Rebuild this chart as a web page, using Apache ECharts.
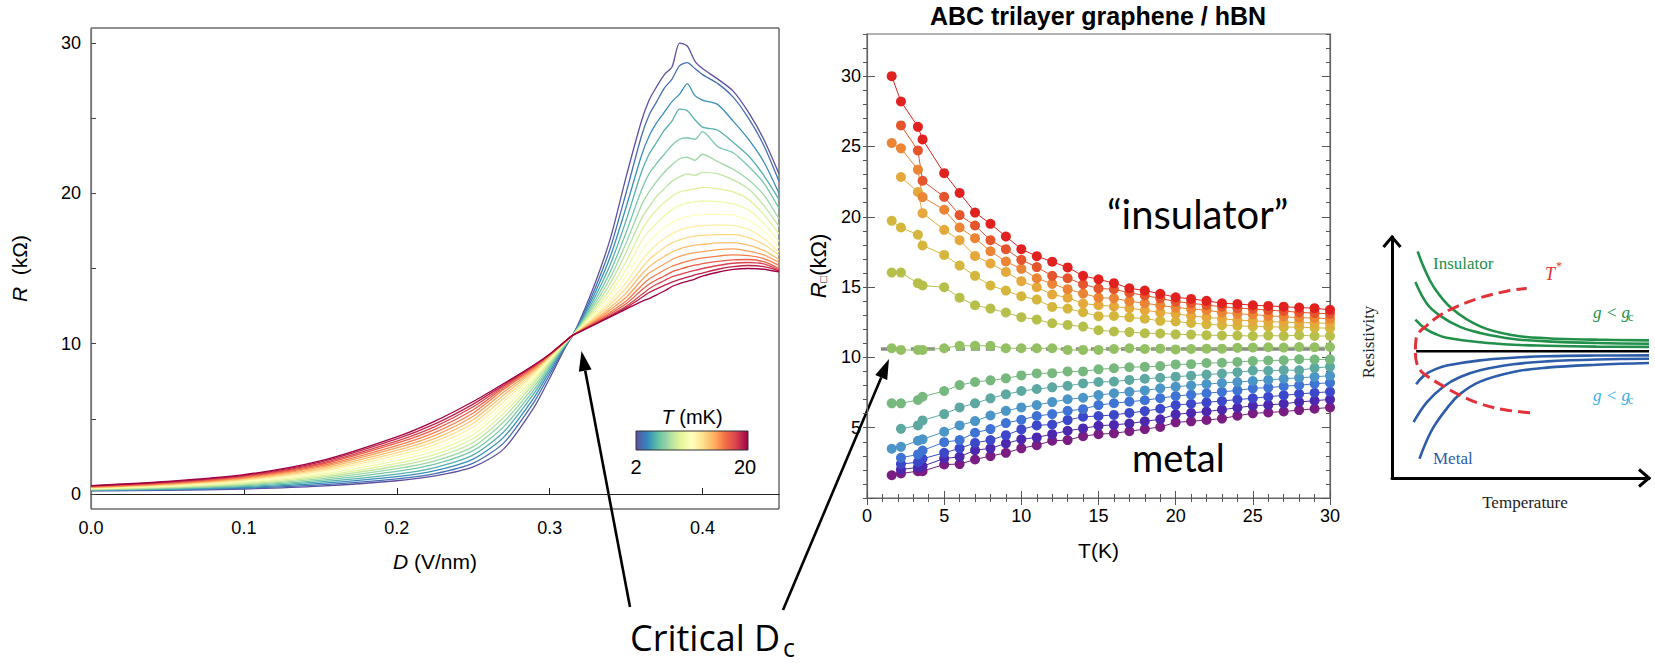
<!DOCTYPE html>
<html><head><meta charset="utf-8">
<script src="https://cdn.jsdelivr.net/npm/echarts@6/dist/echarts.min.js"></script>
<style>html,body{margin:0;padding:0;background:#fff}#c{width:1655px;height:664px}</style>
</head><body><div id="c"></div>
<script>
// ---------- Left panel: R vs D for several temperatures (mK) ----------
const dGrid = [0,0.05,0.1,0.15,0.2,0.225,0.25,0.27,0.29,0.3,0.31,0.315,0.32,0.33,0.34,0.35,0.36,0.365,0.37,0.375,0.38,0.385,0.39,0.395,0.4,0.41,0.42,0.43,0.44,0.45];
const tempsMK = [2,3,4,5,6,7,8,9,10,11,12,13,14,15,16,17,18,19,20];
const rT2  = [0.20,0.24,0.33,0.52,0.88,1.20,1.80,3.00,5.80,7.70,9.70,10.55,11.60,14.10,17.10,21.10,24.80,26.20,27.10,27.90,28.40,30.00,29.80,28.80,28.30,27.60,26.80,25.40,23.60,21.30];
const rT3  = [0.22,0.27,0.38,0.60,1.00,1.35,2.05,3.40,6.15,7.95,9.78,10.55,11.50,13.76,16.46,20.04,23.80,25.20,26.10,27.00,27.60,28.50,28.70,28.30,27.90,27.30,26.40,25.00,23.20,20.80];
const rT4  = [0.24,0.30,0.43,0.70,1.15,1.55,2.32,3.78,6.45,8.15,9.84,10.55,11.42,13.46,15.88,19.08,22.50,23.80,24.70,25.40,26.10,26.60,27.30,26.50,26.20,25.90,24.80,23.60,22.10,20.00];
const rT5  = [0.26,0.33,0.49,0.80,1.32,1.76,2.60,4.14,6.72,8.32,9.89,10.55,11.34,13.18,15.35,18.20,21.40,22.60,23.40,24.20,24.80,25.60,25.50,24.90,24.40,24.20,23.40,22.50,21.20,19.60];
const rT6  = [0.28,0.37,0.55,0.90,1.50,1.98,2.88,4.48,6.96,8.47,9.93,10.55,11.26,12.92,14.87,17.40,20.20,21.30,22.00,22.60,23.20,23.60,23.70,23.60,24.10,23.10,22.70,21.80,20.70,19.00];
const rT7  = [0.30,0.40,0.61,1.00,1.68,2.20,3.15,4.80,7.18,8.60,9.96,10.55,11.20,12.70,14.45,16.70,19.20,20.10,20.80,21.40,21.90,22.30,22.40,22.20,22.60,22.10,21.60,20.90,19.90,18.30];
const rT8  = [0.32,0.44,0.67,1.10,1.86,2.42,3.42,5.10,7.38,8.72,9.99,10.55,11.14,12.50,14.08,16.08,18.30,19.10,19.80,20.30,20.80,21.10,21.30,21.20,21.40,21.30,20.90,20.30,19.20,17.80];
const rT9  = [0.34,0.47,0.73,1.20,2.04,2.64,3.69,5.38,7.56,8.82,10.02,10.55,11.09,12.31,13.71,15.47,17.50,18.30,18.90,19.40,19.80,20.10,20.20,20.30,20.40,20.30,20.10,19.60,18.60,17.30];
const rT10 = [0.36,0.51,0.79,1.30,2.22,2.86,3.95,5.65,7.72,8.91,10.04,10.55,11.04,12.14,13.39,14.94,16.80,17.50,18.00,18.50,18.90,19.20,19.35,19.45,19.50,19.45,19.30,18.90,18.00,16.80];
const rT11 = [0.38,0.54,0.85,1.40,2.40,3.08,4.21,5.90,7.87,8.99,10.06,10.55,11.00,12.00,13.13,14.50,16.10,16.80,17.30,17.70,18.05,18.30,18.45,18.55,18.60,18.60,18.55,18.20,17.50,16.40];
const rT12 = [0.40,0.58,0.91,1.50,2.57,3.29,4.46,6.14,8.00,9.06,10.08,10.55,10.96,11.86,12.86,14.06,15.50,16.10,16.60,17.00,17.30,17.55,17.70,17.80,17.85,17.90,17.85,17.60,17.00,16.10];
const rT13 = [0.42,0.61,0.96,1.60,2.74,3.50,4.70,6.37,8.12,9.12,10.09,10.55,10.93,11.75,12.65,13.71,15.00,15.60,16.00,16.40,16.70,16.90,17.05,17.15,17.20,17.25,17.25,17.05,16.60,15.90];
const rT14 = [0.44,0.65,1.01,1.69,2.90,3.70,4.94,6.58,8.23,9.17,10.10,10.55,10.90,11.64,12.44,13.36,14.60,15.10,15.50,15.80,16.10,16.30,16.45,16.55,16.60,16.70,16.72,16.55,16.20,15.60];
const rT15 = [0.46,0.68,1.06,1.78,3.06,3.90,5.17,6.78,8.32,9.21,10.11,10.55,10.87,11.55,12.28,13.09,14.20,14.70,15.00,15.30,15.60,15.80,15.95,16.05,16.12,16.25,16.30,16.15,15.90,15.40];
const rT16 = [0.48,0.71,1.11,1.87,3.22,4.10,5.39,6.96,8.40,9.24,10.12,10.55,10.85,11.47,12.12,12.83,13.85,14.30,14.60,14.90,15.15,15.33,15.48,15.60,15.70,15.82,15.90,15.85,15.65,15.20];
const rT17 = [0.50,0.74,1.16,1.96,3.38,4.30,5.60,7.08,8.47,9.26,10.13,10.55,10.83,11.41,12.01,12.65,13.55,13.95,14.25,14.50,14.78,14.95,15.10,15.22,15.33,15.48,15.58,15.60,15.45,15.00];
const rT18 = [0.52,0.77,1.20,2.04,3.52,4.48,5.80,7.18,8.53,9.28,10.14,10.55,10.82,11.35,11.91,12.48,13.25,13.65,13.95,14.20,14.45,14.60,14.75,14.88,15.00,15.20,15.35,15.40,15.30,14.90];
const rT19 = [0.54,0.80,1.24,2.12,3.66,4.66,5.98,7.27,8.57,9.29,10.14,10.55,10.81,11.32,11.85,12.39,13.05,13.40,13.65,13.88,14.10,14.28,14.43,14.57,14.70,14.95,15.12,15.20,15.12,14.85];
const rT20 = [0.56,0.83,1.28,2.20,3.80,4.85,6.15,7.35,8.60,9.30,10.15,10.55,10.80,11.30,11.80,12.30,12.80,13.00,13.25,13.50,13.80,14.00,14.15,14.30,14.50,14.75,14.94,15.00,14.95,14.77];
const curvesRD = [rT2,rT3,rT4,rT5,rT6,rT7,rT8,rT9,rT10,rT11,rT12,rT13,rT14,rT15,rT16,rT17,rT18,rT19,rT20];

// ---------- Middle panel: R vs T (K) ----------
const tK = [1.6,2.2,3.3,3.6,5,6,7,8,9,10,11,12,13,14,15,16,17,18,19,20,21,22,23,24,25,26,27,28,29,30];
const sRed     = [30.0,28.2,26.4,25.5,23.1,21.7,20.3,19.5,18.6,17.7,17.2,16.8,16.4,15.8,15.55,15.28,14.92,14.75,14.52,14.28,14.16,14.02,13.85,13.8,13.71,13.66,13.61,13.54,13.5,13.38];
const sRedOr   = [null,26.5,24.72,22.56,21.42,20.12,19.38,18.34,17.7,16.94,16.42,15.8,15.63,15.2,14.9,14.85,14.6,14.4,14.2,13.97,13.85,13.72,13.6,13.5,13.45,13.35,13.3,13.2,13.15,13.1];
const sOrange  = [25.25,24.87,23.35,21.4,20.5,19.24,18.48,17.55,16.82,16.3,15.63,15.23,14.85,14.54,14.25,14.2,14.0,13.85,13.7,13.55,13.45,13.35,13.2,13.1,13.05,12.95,12.9,12.82,12.8,12.75];
const sYelOr   = [null,22.83,21.76,20.26,19.07,18.34,17.22,16.68,16.08,15.42,14.99,14.47,14.25,13.83,13.71,13.62,13.5,13.35,13.2,13.1,12.95,12.85,12.75,12.65,12.6,12.55,12.5,12.48,12.45,12.42];
const sYellow  = [19.71,19.24,18.72,17.96,17.29,16.53,15.8,15.11,14.75,14.35,14.11,13.59,13.47,13.21,12.93,12.95,12.85,12.75,12.6,12.55,12.45,12.35,12.3,12.25,12.2,12.18,12.15,12.16,12.1,12.08];
const sYelGrn  = [16.03,16.03,15.28,15.11,14.99,14.25,13.71,13.47,13.19,12.86,12.69,12.43,12.31,12.19,11.93,11.84,11.8,11.72,11.7,11.64,11.62,11.58,11.56,11.55,11.52,11.55,11.53,11.58,11.52,11.52];
const sCrit    = [10.65,10.53,10.53,10.53,10.65,10.83,10.83,10.83,10.65,10.65,10.65,10.65,10.53,10.53,10.53,10.6,10.65,10.6,10.62,10.57,10.6,10.62,10.62,10.68,10.7,10.72,10.7,10.74,10.72,10.74];
const sGreen   = [6.73,6.73,6.97,7.2,7.61,8.03,8.25,8.37,8.51,8.72,8.86,8.88,9.0,9.0,9.15,9.23,9.3,9.33,9.38,9.5,9.52,9.6,9.62,9.68,9.74,9.78,9.8,9.87,9.85,9.86];
const sTeal    = [null,4.92,5.16,5.52,5.97,6.44,6.73,7.09,7.37,7.61,7.75,7.87,7.98,8.15,8.25,8.28,8.4,8.48,8.55,8.63,8.7,8.78,8.85,8.95,9.06,9.05,9.1,9.08,9.25,9.34];
const sLtBlue  = [3.5,3.64,4.07,4.17,4.71,5.16,5.47,5.87,6.2,6.44,6.61,6.82,7.02,7.13,7.32,7.45,7.55,7.65,7.8,7.92,8.0,8.1,8.18,8.25,8.32,8.4,8.48,8.55,8.62,8.7];
const sBlue    = [null,2.86,3.1,3.38,3.97,4.12,4.64,4.9,5.33,5.56,5.83,5.97,6.2,6.32,6.61,6.74,6.85,6.95,7.1,7.25,7.35,7.45,7.55,7.65,7.8,7.85,7.95,8.02,8.12,8.2];
const sDkBlue  = [null,2.41,2.55,2.79,3.21,3.53,3.92,4.12,4.47,4.88,5.16,5.23,5.54,5.78,5.83,5.91,6.05,6.18,6.35,6.61,6.7,6.8,6.9,7.0,7.09,7.2,7.3,7.41,7.48,7.56];
const sIndigo  = [null,2.03,2.17,2.26,2.81,2.93,3.4,3.53,3.88,4.17,4.31,4.54,4.78,4.95,5.14,5.2,5.3,5.45,5.6,5.95,6.05,6.15,6.28,6.42,6.56,6.62,6.7,6.83,6.92,7.01];
const sPurple  = [1.62,1.74,1.91,1.91,2.38,2.41,2.74,2.98,3.21,3.53,3.76,4.07,4.12,4.4,4.54,4.6,4.75,4.9,5.05,5.38,5.45,5.55,5.65,5.85,6.02,6.08,6.15,6.25,6.35,6.44];
const seriesRT = [sRed,sRedOr,sOrange,sYelOr,sYellow,sYelGrn,sCrit,sGreen,sTeal,sLtBlue,sBlue,sDkBlue,sIndigo,sPurple];
const colorsRT = ['#e0211f','#e5542b','#eb8433','#e5a83b','#d4b63d','#b7bf4b','#93c062','#76b87d','#5da9a2','#4c95c7','#3f74d5','#3c48c9','#4b28ad','#7a1d83'];
const dashT = [0.9, 30];
const dashR = [10.6, 10.6];

// ---------- Right panel: schematic (arbitrary units 0-100) ----------
const insul1 = [[10,94],[12.3,87.6],[16.2,79.3],[23.3,70.3],[34.3,62.9],[47.2,59.2],[60.2,58],[79.6,57.4],[100,57.1]];
const insul2 = [[9.1,81.3],[13.6,72.3],[18.5,67.5],[26.5,62.7],[34.3,60.2],[47.2,57.7],[60.2,56.7],[79.6,56.0],[100,55.7]];
const insul3 = [[9.1,65.7],[12.9,62],[17.5,59.5],[21.3,58.2],[34.3,56.3],[47.2,55.3],[60.2,54.9],[79.6,54.5],[100,54.4]];
const critSch = [[9.4,52.6],[100,52.6]];
const metal1 = [[9.4,38.9],[12.9,42.9],[17.5,45.4],[21.3,46.7],[34.3,48.8],[47.2,49.9],[60.2,50.5],[79.6,50.8],[100,50.9]];
const metal2 = [[8.4,23.2],[13.6,31.5],[20.1,38],[26.5,41.9],[34.3,44.7],[47.2,47.2],[60.2,48.4],[79.6,49.2],[100,49.5]];
const metal3 = [[10.7,8],[12.9,14],[16.2,21.2],[21.3,28.8],[26.3,34.7],[34.3,40],[47.2,44],[60.2,45.8],[79.6,47],[100,47.7]];
const tStarUp = [[9.1,53.3],[9.4,57.8],[10.7,60.6],[12.9,62.7],[18.1,67.1],[23.9,70.5],[34.3,74.8],[44.6,77.5],[52.4,78.7]];
const tStarDn = [[9.1,51.9],[9.7,47.4],[11.6,44],[13.6,42.3],[20.1,38],[26.5,34.3],[34.3,30.8],[43.3,28.4],[54.3,27]];

// ---------- styling helpers ----------
const SANS = 'Liberation Sans, Arial, sans-serif';
const SERIF = 'Liberation Serif, Times New Roman, serif';
const CAL = 'Lato, Open Sans, sans-serif';
const OPEN = 'Open Sans, Lato, sans-serif';
const spectralR = ['#5e4fa2','#3288bd','#66c2a5','#abdda4','#e6f598','#ffffbf','#fee08b','#fdae61','#f46d43','#d53e4f','#9e0142'];
function hex(c){return [parseInt(c.slice(1,3),16),parseInt(c.slice(3,5),16),parseInt(c.slice(5,7),16)];}
function cmap(t){
  const p=t*(spectralR.length-1), i=Math.min(Math.floor(p),spectralR.length-2), f=p-i;
  const a=hex(spectralR[i]), b=hex(spectralR[i+1]);
  return 'rgb('+a.map((v,k)=>Math.round(v+(b[k]-v)*f)).join(',')+')';
}
function arrow(x1,y1,x2,y2){
  const L=20,W=6.5,a=Math.atan2(y2-y1,x2-x1);
  const bx=x2-L*Math.cos(a), by=y2-L*Math.sin(a), px=-Math.sin(a)*W, py=Math.cos(a)*W;
  return [{type:'line',shape:{x1:x1,y1:y1,x2:bx,y2:by},style:{stroke:'#000',lineWidth:2.6}},
          {type:'polygon',shape:{points:[[x2,y2],[bx+px,by+py],[bx-px,by-py]]},style:{fill:'#000'}}];
}

const series = [];
curvesRD.forEach((arr,i)=>{
  const c = cmap((tempsMK[i]-2)/18);
  series.push({type:'line',xAxisIndex:0,yAxisIndex:0,data:dGrid.map((d,j)=>[d,arr[j]]),
    showSymbol:false,smooth:0.25,lineStyle:{width:1.3,color:c},itemStyle:{color:c},z:2+i*0.01});
});
series.push({type:'line',xAxisIndex:1,yAxisIndex:1,data:dashT.map((t,j)=>[t,dashR[j]]),showSymbol:false,
  lineStyle:{color:'#8a8a8a',width:3.5,type:[9,6],cap:'butt'},z:1});
for(let k=seriesRT.length-1;k>=0;k--){
  const arr=seriesRT[k];
  series.push({type:'line',xAxisIndex:1,yAxisIndex:1,data:tK.map((t,j)=>arr[j]==null?null:[t,arr[j]]).filter(v=>v),
    symbol:'circle',symbolSize:10,showSymbol:true,lineStyle:{width:1,color:colorsRT[k]},itemStyle:{color:colorsRT[k]},z:3});
}
const G='#22904a', B='#2d5ca8', RD='#e33139';
[[insul1,G],[insul2,G],[insul3,G],[critSch,'#000'],[metal1,B],[metal2,B],[metal3,B]].forEach(([d,c])=>{
  series.push({type:'line',xAxisIndex:3,yAxisIndex:5,data:d,showSymbol:false,smooth:0.4,lineStyle:{width:2.6,color:c},clip:false});
});
[tStarUp,tStarDn].forEach(d=>series.push({type:'line',xAxisIndex:3,yAxisIndex:5,data:d,showSymbol:false,smooth:0.4,
  lineStyle:{width:3,color:RD,type:'dashed'},clip:false,z:4}));

const lab = {fontFamily:SANS,fontSize:18,color:'#000'};
const option = {
  animation:false,
  backgroundColor:'#fff',
  title:{text:'ABC trilayer graphene / hBN',left:1098,textAlign:'center',top:3,padding:0,
    textStyle:{fontFamily:SANS,fontWeight:'bold',fontSize:25,color:'#000'}},
  grid:[
    {left:91,top:28,width:688,height:481,show:true,borderColor:'#222',borderWidth:1,backgroundColor:'transparent'},
    {left:867,top:34,width:463,height:464,show:true,borderColor:'#666',borderWidth:1.2,backgroundColor:'transparent'},
    {left:1392,top:237,width:257,height:241}
  ],
  xAxis:[
    {gridIndex:0,type:'value',min:0,max:0.45,
     axisLine:{lineStyle:{color:'#222',width:1}},
     axisTick:{inside:true,length:6,customValues:[0.1,0.2,0.3,0.4],lineStyle:{color:'#222'}},
     axisLabel:Object.assign({customValues:[0,0.1,0.2,0.3,0.4],margin:10,formatter:v=>v.toFixed(1)},lab),
     splitLine:{show:false},
     name:'{i|D} (V/nm)',nameLocation:'middle',nameGap:42,
     nameTextStyle:{fontFamily:SANS,fontSize:21,color:'#000',rich:{i:{fontFamily:SANS,fontSize:21,fontStyle:'italic',color:'#000'}}}},
    {gridIndex:1,type:'value',min:0,max:30,interval:5,
     axisLine:{lineStyle:{color:'#666',width:1.2}},
     axisTick:{inside:true,length:7,lineStyle:{color:'#555'}},
     minorTick:{show:true,splitNumber:5,length:4,lineStyle:{color:'#555'}},
     axisLabel:Object.assign({margin:9},lab),splitLine:{show:false},
     name:'T(K)',nameLocation:'middle',nameGap:42,nameTextStyle:{fontFamily:SANS,fontSize:21,color:'#000'}},
    {gridIndex:1,type:'value',position:'top',min:0,max:30,interval:5,
     axisLine:{lineStyle:{color:'#666',width:1.2}},
     axisTick:{inside:true,length:7,lineStyle:{color:'#555'}},
     minorTick:{show:true,splitNumber:5,length:4,lineStyle:{color:'#555'}},
     axisLabel:{show:false},splitLine:{show:false}},
    {gridIndex:2,type:'value',min:0,max:100,axisLine:{show:true,lineStyle:{color:'#000',width:3}},
     axisTick:{show:false},axisLabel:{show:false},splitLine:{show:false}}
  ],
  yAxis:[
    {gridIndex:0,type:'value',min:-1,max:31,
     axisLine:{lineStyle:{color:'#777',width:1.2}},
     axisTick:{inside:true,length:5,customValues:[0,5,10,15,20,25,30],lineStyle:{color:'#444'}},
     axisLabel:Object.assign({customValues:[0,10,20,30],margin:10},lab),
     splitLine:{show:false},
     name:'{i|R}  (kΩ)',nameLocation:'middle',nameGap:61,
     nameTextStyle:{fontFamily:SANS,fontSize:21,color:'#000',rich:{i:{fontFamily:SANS,fontSize:21,fontStyle:'italic',color:'#000'}}}},
    {gridIndex:1,type:'value',min:0,max:33,
     axisLine:{lineStyle:{color:'#666',width:1.2}},
     axisTick:{inside:true,length:8,customValues:[0,5,10,15,20,25,30],lineStyle:{color:'#555'}},
     axisLabel:Object.assign({customValues:[5,10,15,20,25,30],margin:6},lab),splitLine:{show:false},
     name:'{i|R}{s|□}(kΩ)',nameLocation:'middle',nameGap:38,
     nameTextStyle:{fontFamily:SANS,fontSize:22,color:'#000',
       rich:{i:{fontFamily:SANS,fontSize:22,fontStyle:'italic',color:'#000'},s:{fontFamily:SANS,fontSize:11,color:'#000',padding:[10,0,0,0]}}}},
    {gridIndex:1,type:'value',min:0,max:33,interval:1,axisLine:{show:false},
     axisTick:{inside:true,length:4,lineStyle:{color:'#555'}},axisLabel:{show:false},splitLine:{show:false}},
    {gridIndex:1,type:'value',position:'right',min:0,max:33,
     axisLine:{lineStyle:{color:'#666',width:1.2}},
     axisTick:{inside:true,length:8,customValues:[0,5,10,15,20,25,30],lineStyle:{color:'#555'}},
     axisLabel:{show:false},splitLine:{show:false}},
    {gridIndex:1,type:'value',position:'right',min:0,max:33,interval:1,axisLine:{show:false},
     axisTick:{inside:true,length:4,lineStyle:{color:'#555'}},axisLabel:{show:false},splitLine:{show:false}},
    {gridIndex:2,type:'value',min:0,max:100,axisLine:{show:true,lineStyle:{color:'#000',width:3}},
     axisTick:{show:false},axisLabel:{show:false},splitLine:{show:false}}
  ],
  series:series,
  graphic:{elements:[
    // colorbar
    {type:'rect',shape:{x:636,y:431,width:112,height:19},
     style:{fill:new echarts.graphic.LinearGradient(0,0,1,0,spectralR.map((c,i)=>({offset:i/(spectralR.length-1),color:c}))),stroke:'#333',lineWidth:1}},
    {type:'text',x:692,y:417,style:{text:'{i|T} (mK)',fontFamily:SANS,fontSize:20,fill:'#000',align:'center',verticalAlign:'middle',
      rich:{i:{fontFamily:SANS,fontSize:20,fontStyle:'italic',fill:'#000'}}}},
    {type:'text',x:636,y:467,style:{text:'2',fontFamily:SANS,fontSize:20,fill:'#000',align:'center',verticalAlign:'middle'}},
    {type:'text',x:745,y:467,style:{text:'20',fontFamily:SANS,fontSize:20,fill:'#000',align:'center',verticalAlign:'middle'}},
    // annotations
    {type:'text',x:1107,y:214,style:{text:'“insulator”',fontFamily:CAL,fontSize:40,fill:'#000',align:'left',verticalAlign:'middle'}},
    {type:'text',x:1132,y:457,style:{text:'metal',fontFamily:CAL,fontSize:38,fill:'#000',align:'left',verticalAlign:'middle'}},
    {type:'text',x:630,y:637,style:{text:'Critical D',fontFamily:OPEN,fontSize:36,fill:'#000',align:'left',verticalAlign:'middle'}},
    {type:'text',x:783,y:647,style:{text:'c',fontFamily:OPEN,fontSize:25,fill:'#000',align:'left',verticalAlign:'middle'}},
    ...arrow(630,607,581.5,351),
    ...arrow(783,610,889,359),
    // schematic decorations
    {type:'polyline',shape:{points:[[1383.5,247],[1392,237],[1400.5,247]]},style:{stroke:'#000',lineWidth:3,fill:null}},
    {type:'polyline',shape:{points:[[1639,469.5],[1649,478],[1639,486.5]]},style:{stroke:'#000',lineWidth:3,fill:null}},
    {type:'text',x:1368,y:342,rotation:Math.PI/2,style:{text:'Resistivity',fontFamily:SERIF,fontSize:17,fill:'#222',align:'center',verticalAlign:'middle'}},
    {type:'text',x:1525,y:502,style:{text:'Temperature',fontFamily:SERIF,fontSize:17,fill:'#222',align:'center',verticalAlign:'middle'}},
    {type:'text',x:1433,y:263,style:{text:'Insulator',fontFamily:SERIF,fontSize:17,fill:G,align:'left',verticalAlign:'middle'}},
    {type:'text',x:1433,y:458,style:{text:'Metal',fontFamily:SERIF,fontSize:17,fill:B,align:'left',verticalAlign:'middle'}},
    {type:'text',x:1545,y:274,style:{text:'T',fontFamily:SERIF,fontSize:18,fontStyle:'italic',fill:RD,align:'left',verticalAlign:'middle'}},
    {type:'text',x:1556,y:266,style:{text:'*',fontFamily:SERIF,fontSize:12,fill:RD,align:'left',verticalAlign:'middle'}},
    {type:'text',x:1593,y:312,style:{text:'g < g',fontFamily:SERIF,fontSize:17,fontStyle:'italic',fill:G,align:'left',verticalAlign:'middle'}},
    {type:'text',x:1628,y:317,style:{text:'c',fontFamily:SERIF,fontSize:12,fill:G,align:'left',verticalAlign:'middle'}},
    {type:'text',x:1593,y:395,style:{text:'g < g',fontFamily:SERIF,fontSize:17,fontStyle:'italic',fill:'#3aaee6',align:'left',verticalAlign:'middle'}},
    {type:'text',x:1628,y:400,style:{text:'c',fontFamily:SERIF,fontSize:12,fill:'#3aaee6',align:'left',verticalAlign:'middle'}}
  ]}
};
const chart = echarts.init(document.getElementById('c'), null, {renderer:'svg',width:1655,height:664});
chart.setOption(option);
</script>
</body></html>
